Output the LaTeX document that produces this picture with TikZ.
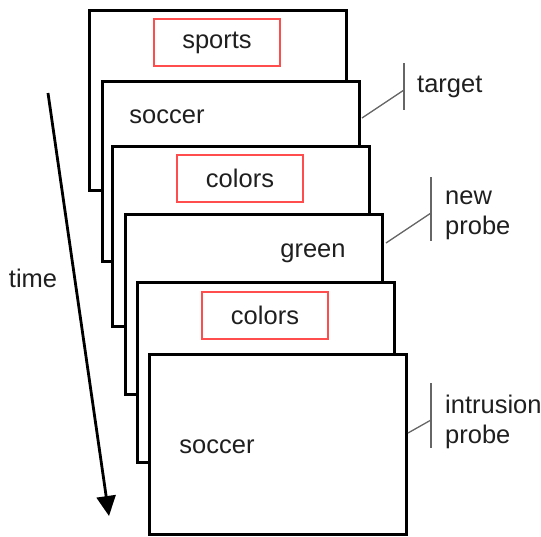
\documentclass[tikz,border=0pt]{standalone}
\usepackage{fontspec}
\setmainfont{Liberation Sans}
\usetikzlibrary{arrows.meta}

\begin{document}
\begin{tikzpicture}[x=1pt,y=-1pt,
  card/.style={draw=black, line width=2.7pt, fill=white, anchor=north west,
    minimum width=257pt, minimum height=180pt, inner sep=0pt},
  cue/.style={draw=red!70, line width=1.4pt, minimum width=126pt,
    minimum height=47pt, inner sep=0pt},
  word/.style={font=\fontsize{25.5}{30}\selectfont, text=black!88, inner sep=0pt},
  tag/.style={word, anchor=west, align=left},
  brace/.style={draw=black!60, line width=1.3pt}]
\useasboundingbox (0,0) rectangle (541,536);

% stack of display cards, back to front
\node[card] (c1) at (88,9) {};
\node[cue] (cue1) at ([shift={(129,33.5)}]c1.north west) {};
\node[word] at (cue1) {sports};

\node[card] (c2) at (101,80) {};
\node[word] (w2) at (167,117) {soccer};

\node[card] (c3) at (111,145) {};
\node[cue] (cue3) at ([shift={(129,33.5)}]c3.north west) {};
\node[word] at (cue3) {colors};

\node[card] (c4) at (124,213) {};
\node[word] (w4) at (313,253) {green};

\node[card] (c5) at (136,281) {};
\node[cue] (cue5) at ([shift={(129,34.5)}]c5.north west) {};
\node[word] at (cue5) {colors};

\node[card] (c6) at (148,353) {};
\node[word] (w6) at (217,447) {soccer};

% time axis
\coordinate (tA) at (48,93);
\coordinate (tB) at (109,516);
\draw[line width=2.8pt, -{Triangle[length=20pt,width=19pt]}] (tA) -- (tB);
\node[word] (time) at (33,278) {time};

% bracket labels
\coordinate (b1t) at (404,63);
\coordinate (b1b) at (404,110);
\coordinate (b1m) at (404,90);
\coordinate (b1e) at (362,118);
\draw[brace] (b1t) -- (b1b);
\draw[brace] (b1e) -- (b1m);
\node[tag] (target) at (417,87) {target};

\coordinate (b2t) at (431,177);
\coordinate (b2b) at (431,241);
\coordinate (b2m) at (431,213);
\coordinate (b2e) at (386,243);
\draw[brace] (b2t) -- (b2b);
\draw[brace] (b2e) -- (b2m);
\node[tag] (newprobe) at (445,215) {new\\probe};

\coordinate (b3t) at (431,383);
\coordinate (b3b) at (431,448);
\coordinate (b3m) at (431,420);
\coordinate (b3e) at (408,433);
\draw[brace] (b3t) -- (b3b);
\draw[brace] (b3e) -- (b3m);
\node[tag] (intrusion) at (445,422) {intrusion\\probe};
\end{tikzpicture}
\end{document}
